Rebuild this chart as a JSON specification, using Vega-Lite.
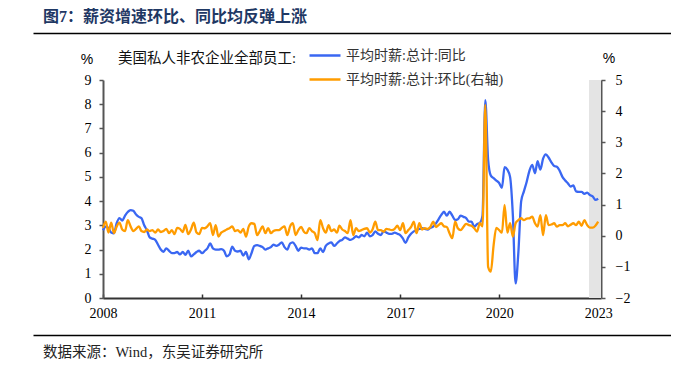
{
  "$schema": "https://vega.github.io/schema/vega-lite/v6.json",
  "background": "white",
  "padding": {"left": 33, "top": 9, "right": 0, "bottom": 4},
  "autosize": {"type": "pad"},
  "datasets": {
    "wages": [
      {"date":"2008-01","yoy":2.8,"mom":0.25},{"date":"2008-02","yoy":2.95,"mom":0.45},{"date":"2008-03","yoy":2.9,"mom":0.1},{"date":"2008-04","yoy":2.7,"mom":0.42},{"date":"2008-05","yoy":2.67,"mom":0.08},{"date":"2008-06","yoy":3.1,"mom":0.3},{"date":"2008-07","yoy":3.3,"mom":0.42},{"date":"2008-08","yoy":3.2,"mom":0.2},{"date":"2008-09","yoy":3.4,"mom":0.15},{"date":"2008-10","yoy":3.55,"mom":0.5},{"date":"2008-11","yoy":3.63,"mom":0.3},{"date":"2008-12","yoy":3.6,"mom":0.15},
      {"date":"2009-01","yoy":3.45,"mom":0.22},{"date":"2009-02","yoy":3.35,"mom":0.3},{"date":"2009-03","yoy":3.3,"mom":0.15},{"date":"2009-04","yoy":3.0,"mom":0.12},{"date":"2009-05","yoy":2.8,"mom":0.2},{"date":"2009-06","yoy":2.5,"mom":0.15},{"date":"2009-07","yoy":2.45,"mom":0.18},{"date":"2009-08","yoy":2.4,"mom":0.1},{"date":"2009-09","yoy":2.2,"mom":0.2},{"date":"2009-10","yoy":2.0,"mom":0.12},{"date":"2009-11","yoy":1.91,"mom":0.15},{"date":"2009-12","yoy":2.05,"mom":0.22},
      {"date":"2010-01","yoy":1.95,"mom":0.08},{"date":"2010-02","yoy":1.85,"mom":0.18},{"date":"2010-03","yoy":1.85,"mom":0.05},{"date":"2010-04","yoy":1.9,"mom":0.25},{"date":"2010-05","yoy":1.8,"mom":0.22},{"date":"2010-06","yoy":1.9,"mom":0.12},{"date":"2010-07","yoy":1.78,"mom":0.35},{"date":"2010-08","yoy":1.95,"mom":0.05},{"date":"2010-09","yoy":1.72,"mom":0.2},{"date":"2010-10","yoy":1.8,"mom":0.42},{"date":"2010-11","yoy":1.9,"mom":0.1},{"date":"2010-12","yoy":1.95,"mom":0.05},
      {"date":"2011-01","yoy":1.85,"mom":0.25},{"date":"2011-02","yoy":1.95,"mom":0.24},{"date":"2011-03","yoy":2.05,"mom":0.3},{"date":"2011-04","yoy":2.25,"mom":0.4},{"date":"2011-05","yoy":2.05,"mom":0.02},{"date":"2011-06","yoy":2.0,"mom":0.34},{"date":"2011-07","yoy":2.0,"mom":-0.03},{"date":"2011-08","yoy":2.02,"mom":0.1},{"date":"2011-09","yoy":1.95,"mom":0.15},{"date":"2011-10","yoy":1.72,"mom":0.2},{"date":"2011-11","yoy":1.8,"mom":0.24},{"date":"2011-12","yoy":2.12,"mom":0.3},
      {"date":"2012-01","yoy":1.95,"mom":0.15},{"date":"2012-02","yoy":1.92,"mom":0.18},{"date":"2012-03","yoy":1.95,"mom":0.1},{"date":"2012-04","yoy":1.75,"mom":0.22},{"date":"2012-05","yoy":1.9,"mom":-0.03},{"date":"2012-06","yoy":1.6,"mom":0.3},{"date":"2012-07","yoy":1.85,"mom":0.4},{"date":"2012-08","yoy":2.15,"mom":0.38},{"date":"2012-09","yoy":2.18,"mom":0.02},{"date":"2012-10","yoy":2.15,"mom":0.15},{"date":"2012-11","yoy":2.1,"mom":0.3},{"date":"2012-12","yoy":2.0,"mom":0.08},
      {"date":"2013-01","yoy":2.05,"mom":0.24},{"date":"2013-02","yoy":2.1,"mom":0.08},{"date":"2013-03","yoy":2.2,"mom":0.15},{"date":"2013-04","yoy":2.15,"mom":0.18},{"date":"2013-05","yoy":2.2,"mom":0.18},{"date":"2013-06","yoy":2.3,"mom":0.25},{"date":"2013-07","yoy":2.1,"mom":0.3},{"date":"2013-08","yoy":2.0,"mom":0.02},{"date":"2013-09","yoy":2.25,"mom":0.3},{"date":"2013-10","yoy":2.3,"mom":0.4},{"date":"2013-11","yoy":2.15,"mom":0.02},{"date":"2013-12","yoy":1.95,"mom":0.18},
      {"date":"2014-01","yoy":2.08,"mom":0.28},{"date":"2014-02","yoy":2.05,"mom":0.13},{"date":"2014-03","yoy":2.05,"mom":0.08},{"date":"2014-04","yoy":2.0,"mom":0.24},{"date":"2014-05","yoy":2.05,"mom":0.15},{"date":"2014-06","yoy":1.85,"mom":0.08},{"date":"2014-07","yoy":1.85,"mom":-0.14},{"date":"2014-08","yoy":2.05,"mom":0.5},{"date":"2014-09","yoy":1.9,"mom":0.24},{"date":"2014-10","yoy":2.15,"mom":0.1},{"date":"2014-11","yoy":2.25,"mom":0.34},{"date":"2014-12","yoy":2.3,"mom":0.15},
      {"date":"2015-01","yoy":2.15,"mom":0.2},{"date":"2015-02","yoy":2.25,"mom":0.1},{"date":"2015-03","yoy":2.35,"mom":0.32},{"date":"2015-04","yoy":2.4,"mom":0.2},{"date":"2015-05","yoy":2.5,"mom":0.15},{"date":"2015-06","yoy":2.45,"mom":0.08},{"date":"2015-07","yoy":2.4,"mom":0.5},{"date":"2015-08","yoy":2.45,"mom":0.02},{"date":"2015-09","yoy":2.55,"mom":0.24},{"date":"2015-10","yoy":2.5,"mom":0.15},{"date":"2015-11","yoy":2.6,"mom":0.18},{"date":"2015-12","yoy":2.55,"mom":0.22},
      {"date":"2016-01","yoy":2.7,"mom":0.24},{"date":"2016-02","yoy":2.55,"mom":0.1},{"date":"2016-03","yoy":2.6,"mom":0.2},{"date":"2016-04","yoy":2.75,"mom":0.45},{"date":"2016-05","yoy":2.65,"mom":0.18},{"date":"2016-06","yoy":2.6,"mom":0.18},{"date":"2016-07","yoy":2.75,"mom":0.13},{"date":"2016-08","yoy":2.7,"mom":0.22},{"date":"2016-09","yoy":2.65,"mom":0.2},{"date":"2016-10","yoy":2.65,"mom":0.18},{"date":"2016-11","yoy":2.7,"mom":0.22},{"date":"2016-12","yoy":2.65,"mom":0.32},
      {"date":"2017-01","yoy":2.6,"mom":0.18},{"date":"2017-02","yoy":2.45,"mom":0.4},{"date":"2017-03","yoy":2.28,"mom":0.08},{"date":"2017-04","yoy":2.5,"mom":0.18},{"date":"2017-05","yoy":2.65,"mom":0.28},{"date":"2017-06","yoy":2.75,"mom":0.45},{"date":"2017-07","yoy":2.8,"mom":0.08},{"date":"2017-08","yoy":2.85,"mom":0.4},{"date":"2017-09","yoy":2.88,"mom":0.2},{"date":"2017-10","yoy":2.85,"mom":0.24},{"date":"2017-11","yoy":2.82,"mom":0.22},{"date":"2017-12","yoy":2.9,"mom":0.28},
      {"date":"2018-01","yoy":2.95,"mom":0.45},{"date":"2018-02","yoy":3.08,"mom":0.28},{"date":"2018-03","yoy":3.25,"mom":0.34},{"date":"2018-04","yoy":3.43,"mom":0.4},{"date":"2018-05","yoy":3.56,"mom":0.3},{"date":"2018-06","yoy":3.4,"mom":0.28},{"date":"2018-07","yoy":3.56,"mom":0.08},{"date":"2018-08","yoy":3.4,"mom":-0.08},{"date":"2018-09","yoy":3.22,"mom":0.45},{"date":"2018-10","yoy":3.25,"mom":0.24},{"date":"2018-11","yoy":3.4,"mom":0.18},{"date":"2018-12","yoy":3.35,"mom":0.28},
      {"date":"2019-01","yoy":3.3,"mom":0.38},{"date":"2019-02","yoy":3.15,"mom":0.34},{"date":"2019-03","yoy":3.15,"mom":0.32},{"date":"2019-04","yoy":2.94,"mom":0.24},{"date":"2019-05","yoy":3.05,"mom":0.13},{"date":"2019-06","yoy":3.1,"mom":0.4},{"date":"2019-07","yoy":3.4,"mom":0.3},{"date":"2019-08","yoy":8.17,"mom":4.2},{"date":"2019-09","yoy":5.7,"mom":-1.0},{"date":"2019-10","yoy":5.05,"mom":-1.15},{"date":"2019-11","yoy":4.95,"mom":-0.3},{"date":"2019-12","yoy":4.85,"mom":0.25},
      {"date":"2020-01","yoy":4.75,"mom":0.18},{"date":"2020-02","yoy":4.55,"mom":0.1},{"date":"2020-03","yoy":5.4,"mom":0.99},{"date":"2020-04","yoy":5.3,"mom":0.1},{"date":"2020-05","yoy":5.0,"mom":0.4},{"date":"2020-06","yoy":3.4,"mom":-0.03},{"date":"2020-07","yoy":0.6,"mom":0.4},{"date":"2020-08","yoy":1.9,"mom":0.5},{"date":"2020-09","yoy":4.0,"mom":0.56},{"date":"2020-10","yoy":4.4,"mom":0.5},{"date":"2020-11","yoy":4.8,"mom":0.55},{"date":"2020-12","yoy":5.25,"mom":0.56},
      {"date":"2021-01","yoy":5.5,"mom":0.61},{"date":"2021-02","yoy":5.15,"mom":0.4},{"date":"2021-03","yoy":5.65,"mom":0.29},{"date":"2021-04","yoy":5.3,"mom":0.66},{"date":"2021-05","yoy":5.75,"mom":0.02},{"date":"2021-06","yoy":5.93,"mom":0.66},{"date":"2021-07","yoy":5.8,"mom":0.34},{"date":"2021-08","yoy":5.6,"mom":0.36},{"date":"2021-09","yoy":5.45,"mom":0.4},{"date":"2021-10","yoy":5.42,"mom":0.29},{"date":"2021-11","yoy":5.25,"mom":0.34},{"date":"2021-12","yoy":5.0,"mom":0.34},
      {"date":"2022-01","yoy":4.85,"mom":0.4},{"date":"2022-02","yoy":4.73,"mom":0.3},{"date":"2022-03","yoy":4.6,"mom":0.35},{"date":"2022-04","yoy":4.65,"mom":0.4},{"date":"2022-05","yoy":4.4,"mom":0.34},{"date":"2022-06","yoy":4.38,"mom":0.45},{"date":"2022-07","yoy":4.38,"mom":0.32},{"date":"2022-08","yoy":4.3,"mom":0.5},{"date":"2022-09","yoy":4.35,"mom":0.34},{"date":"2022-10","yoy":4.25,"mom":0.26},{"date":"2022-11","yoy":4.2,"mom":0.26},{"date":"2022-12","yoy":4.05,"mom":0.32},
      {"date":"2023-01","yoy":4.1,"mom":0.45}
    ]
  },
  "vconcat": [
    {
      "width": 638,
      "height": 10,
      "data": {"values": []},
      "mark": "rule",
      "encoding": {
        "x": {"field": "p", "type": "quantitative", "scale": {"domain": [0, 1]},
              "axis": {"orient": "top", "domain": true, "domainColor": "#000000", "domainWidth": 1.6, "ticks": false, "labels": false, "grid": false, "title": null}}
      },
      "title": {"text": "图7：薪资增速环比、同比均反弹上涨", "anchor": "start", "dx": 10, "offset": 8, "fontSize": 16, "fontWeight": "bold", "color": "#1F3864", "font": "Liberation Serif, Noto Sans CJK SC"}
    },
    {
      "width": 498,
      "height": 218,
      "layer": [
        {
          "data": {"values": [{"start": "2022-09-21", "end": "2023-02-01"}]},
          "mark": {"type": "rect", "color": "#e4e4e4"},
          "encoding": {
            "x": {"field": "start", "type": "temporal",
                  "scale": {"type": "utc", "domain": [{"year": 2008, "month": 1, "date": 1, "utc": true}, {"year": 2023, "month": 2, "date": 1, "utc": true}]},
                  "axis": {"orient": "bottom", "title": null, "grid": false, "format": "%Y",
                           "values": [{"year": 2008, "month": 1, "date": 1, "utc": true}, {"year": 2011, "month": 1, "date": 1, "utc": true}, {"year": 2014, "month": 1, "date": 1, "utc": true}, {"year": 2017, "month": 1, "date": 1, "utc": true}, {"year": 2020, "month": 1, "date": 1, "utc": true}, {"year": 2023, "month": 1, "date": 1, "utc": true}],
                           "domainColor": "#333333", "domainWidth": 2, "tickColor": "#333333", "tickWidth": 1.5, "tickSize": -4,
                           "labelPadding": 12, "labelFont": "Liberation Serif", "labelFontSize": 14, "labelColor": "#000000", "labelAngle": 0, "labelFlush": false, "labelOverlap": false}},
            "x2": {"field": "end"}
          }
        },
        {
          "data": {"name": "wages"},
          "mark": {"type": "line", "strokeWidth": 2.3, "interpolate": "monotone"},
          "encoding": {
            "x": {"field": "date", "type": "temporal"},
            "y": {"field": "yoy", "type": "quantitative", "scale": {"domain": [0, 9], "nice": false, "zero": false},
                  "axis": {"orient": "left", "values": [0,1,2,3,4,5,6,7,8,9], "grid": false,
                           "domainColor": "#555555", "domainWidth": 2, "tickColor": "#555555", "tickWidth": 1.5, "tickSize": 4,
                           "labelPadding": 8, "labelFont": "Liberation Serif", "labelFontSize": 14, "labelColor": "#000000",
                           "title": "%", "titleAngle": 0, "titleX": -16.5, "titleY": -21, "titleAlign": "center", "titleBaseline": "middle",
                           "titleFont": "Liberation Sans", "titleFontSize": 14, "titleFontWeight": "normal", "titleColor": "#000000"}},
            "color": {"datum": "平均时薪:总计:同比", "type": "nominal",
                      "scale": {"domain": ["平均时薪:总计:同比", "平均时薪:总计:环比(右轴)"], "range": ["#3A67F2", "#FF9C00"]},
                      "legend": {"orient": "none", "legendX": 15, "legendY": -41.5, "direction": "vertical",
                                 "title": "美国私人非农企业全部员工:", "titleOrient": "left", "titleAnchor": "middle", "titleBaseline": "alphabetic",
                                 "titlePadding": 11, "titleFont": "Liberation Serif, Noto Sans CJK SC", "titleFontSize": 14.5, "titleFontWeight": "normal", "titleColor": "#111111", "titleLimit": 0,
                                 "symbolType": "stroke", "symbolSize": 961, "symbolStrokeWidth": 2.5, "labelOffset": 4,
                                 "labelFont": "Liberation Serif, Noto Sans CJK SC", "labelFontSize": 14, "labelColor": "#333333", "labelLimit": 0,
                                 "rowPadding": -8, "padding": 0}}
          }
        },
        {
          "data": {"name": "wages"},
          "mark": {"type": "line", "strokeWidth": 2.3, "interpolate": "monotone"},
          "encoding": {
            "x": {"field": "date", "type": "temporal"},
            "y": {"field": "mom", "type": "quantitative", "scale": {"domain": [-2, 5], "nice": false, "zero": false},
                  "axis": {"orient": "right", "values": [-2,-1,0,1,2,3,4,5], "grid": false,
                           "domainColor": "#555555", "domainWidth": 2, "tickColor": "#555555", "tickWidth": 1.5, "tickSize": 4,
                           "labelPadding": 10, "labelFont": "Liberation Serif", "labelFontSize": 14, "labelColor": "#000000",
                           "title": "%", "titleAngle": 0, "titleX": 7.5, "titleY": -22, "titleAlign": "center", "titleBaseline": "middle",
                           "titleFont": "Liberation Sans", "titleFontSize": 14, "titleFontWeight": "normal", "titleColor": "#000000"}},
            "color": {"datum": "平均时薪:总计:环比(右轴)", "type": "nominal"}
          }
        }
      ],
      "resolve": {"scale": {"y": "independent"}}
    },
    {
      "width": 638,
      "height": 0,
      "data": {"values": []},
      "mark": "rule",
      "encoding": {
        "x": {"field": "p", "type": "quantitative", "scale": {"domain": [0, 1]},
              "axis": {"orient": "top", "domain": true, "domainColor": "#000000", "domainWidth": 1.6, "ticks": false, "labels": false, "grid": false, "title": null}}
      },
      "title": {"text": "数据来源：Wind，东吴证券研究所", "orient": "bottom", "anchor": "start", "dx": 10, "dy": -13, "offset": 4, "fontSize": 14.5, "fontWeight": "normal", "color": "#222222", "font": "Liberation Serif, Noto Sans CJK SC"}
    }
  ],
  "spacing": 37,
  "bounds": "flush",
  "center": true,
  "resolve": {"scale": {"x": "independent", "color": "independent"}},
  "config": {
    "view": {"stroke": null},
    "font": "Liberation Serif, Noto Sans CJK SC"
  }
}
